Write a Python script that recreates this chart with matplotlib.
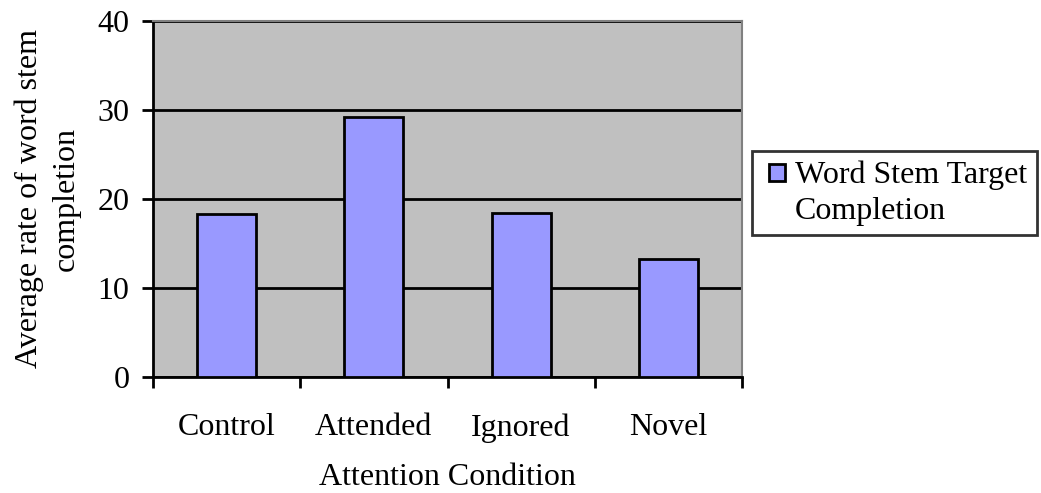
import numpy as np
import matplotlib.pyplot as plt
from matplotlib.patches import Rectangle

plt.rcParams['font.family'] = ['Liberation Serif', 'DejaVu Serif']

conditions = ['Control', 'Attended', 'Ignored', 'Novel']
completion = [18.3, 29.2, 18.4, 13.3]


class TopSquare:
    '''legend square lined up with the first line of a two-line label'''

    def legend_artist(self, legend, orig_handle, fontsize, handlebox):
        size = 12
        sq = Rectangle((5, 16.5), size, size, facecolor=orig_handle.get_facecolor(),
                       edgecolor='black', linewidth=2,
                       transform=handlebox.get_transform())
        handlebox.add_artist(sq)
        return sq


fig = plt.figure(figsize=(10.41, 4.93), dpi=100)
ax = fig.add_axes([153/1041, 1 - 377/493, (742-153)/1041, (377-21)/493])

x = np.arange(len(conditions))
ax.set_facecolor('#c0c0c0')
bars = ax.bar(x, completion, width=0.4, color='#9999ff', edgecolor='black',
              linewidth=2, zorder=3)

ax.set_xlim(-0.5, len(conditions) - 0.5)
ax.set_ylim(0, 40)
ax.set_yticks([0, 10, 20, 30, 40])
ax.yaxis.grid(True, color='black', linewidth=2, zorder=1)
ax.set_axisbelow(True)

# category labels sit between the boundary ticks
ax.set_xticks(np.arange(-0.5, len(conditions)), minor=False)
ax.set_xticklabels([])
ax.set_xticks(x, minor=True)
ax.set_xticklabels(conditions, minor=True)
ax.tick_params(axis='x', which='minor', length=0, pad=26, labelsize=23)
ax.tick_params(axis='x', which='major', length=8, width=2, direction='out')
ax.tick_params(axis='y', length=8, width=2, direction='out', labelsize=23, pad=9)

for side in ['left', 'bottom']:
    ax.spines[side].set_linewidth(2)
    ax.spines[side].set_color('black')
for side in ['top', 'right']:
    ax.spines[side].set_linewidth(1.5)
    ax.spines[side].set_color('#808080')

ax.set_xlabel('Attention Condition', fontsize=23, labelpad=15)
ax.set_ylabel('Average rate of word stem\ncompletion', fontsize=23, labelpad=12,
              linespacing=1.35)

leg = ax.legend(handles=[bars.patches[0]], labels=['Word Stem Target\nCompletion'],
                handler_map={Rectangle: TopSquare()},
                loc='center left', bbox_to_anchor=(752/1041, 1 - 193/493),
                bbox_transform=fig.transFigure, fontsize=23, frameon=True,
                fancybox=False, edgecolor='black', handlelength=0.74,
                handleheight=0.5, handletextpad=0.3, borderpad=0.3,
                borderaxespad=0)
leg.get_frame().set_linewidth(2)
leg.get_texts()[0].set_linespacing(1.3)

fig.savefig('out.png', dpi=100)
